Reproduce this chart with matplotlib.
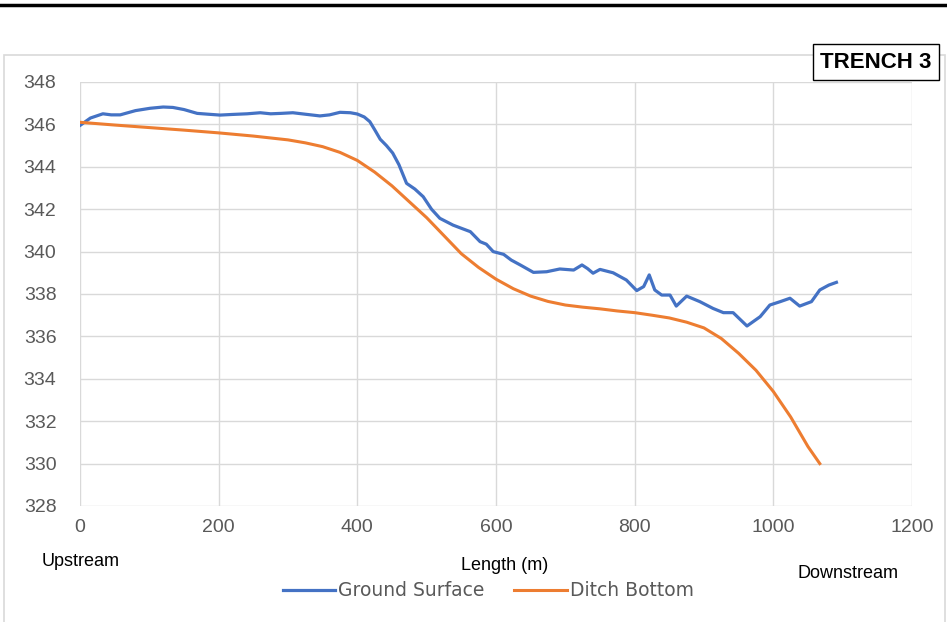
import matplotlib
matplotlib.use("Agg")
import matplotlib.pyplot as plt
from matplotlib.lines import Line2D
from matplotlib.patches import Rectangle

# Ground surface profile (length in m, elevation)
ground_x = [0, 15, 33, 45, 58, 80, 101, 120, 134, 150, 169, 185, 202, 220, 241,
            260, 275, 290, 307, 325, 346, 360, 375, 390, 400, 410, 418, 425, 433,
            442, 451, 460, 471, 483, 495, 507, 519, 538, 550, 563, 577, 586, 596,
            611, 622, 635, 654, 673, 692, 712, 724, 732, 740, 750, 769, 788, 803,
            813, 821, 829, 839, 851, 860, 875, 894, 913, 928, 942, 962, 981, 995,
            1010, 1024, 1038, 1055, 1067, 1080, 1091]
ground_y = [345.95, 346.3, 346.5, 346.45, 346.45, 346.65, 346.76, 346.82, 346.8,
            346.7, 346.52, 346.48, 346.44, 346.47, 346.5, 346.55, 346.5, 346.52,
            346.55, 346.48, 346.4, 346.45, 346.57, 346.55, 346.49, 346.35, 346.13,
            345.75, 345.3, 345.0, 344.65, 344.1, 343.22, 342.95, 342.59, 342.0,
            341.57, 341.25, 341.1, 340.94, 340.47, 340.35, 340.0, 339.87, 339.6,
            339.37, 339.02, 339.05, 339.18, 339.13, 339.37, 339.2, 338.98, 339.16,
            339.0, 338.66, 338.16, 338.35, 338.9, 338.19, 337.95, 337.95, 337.43,
            337.9, 337.64, 337.32, 337.12, 337.12, 336.49, 336.93, 337.48, 337.64,
            337.8, 337.43, 337.64, 338.19, 338.42, 338.55]

# Ditch bottom profile
ditch_x = [0, 50, 100, 150, 200, 250, 300, 325, 350, 375, 400, 425, 450, 475,
           500, 525, 550, 575, 600, 625, 650, 675, 700, 725, 750, 775, 800, 825,
           850, 875, 900, 925, 950, 975, 1000, 1025, 1050, 1067]
ditch_y = [346.1, 345.97, 345.85, 345.73, 345.6, 345.45, 345.27, 345.13, 344.95,
           344.68, 344.3, 343.75, 343.1, 342.35, 341.6, 340.75, 339.9, 339.25,
           338.7, 338.25, 337.9, 337.65, 337.48, 337.38, 337.3, 337.2, 337.12,
           337.0, 336.87, 336.67, 336.4, 335.9, 335.2, 334.4, 333.4, 332.2,
           330.8, 330.0]

x_ticks = [0, 200, 400, 600, 800, 1000, 1200]
y_ticks = [328, 330, 332, 334, 336, 338, 340, 342, 344, 346, 348]

blue = "#4472C4"
orange = "#ED7D31"
grid_c = "#d9d9d9"
label_c = "#595959"

W, H = 947, 622
fig = plt.figure(figsize=(W / 100, H / 100), dpi=100)

# chart border and top rule
fig.patches.append(Rectangle((4 / W, -0.05), 941 / W, 1.05 - 55 / H,
                             transform=fig.transFigure, fill=False,
                             edgecolor=grid_c, linewidth=1.2))
fig.add_artist(Line2D([0, 1], [1 - 5 / H, 1 - 5 / H], transform=fig.transFigure,
                      color="black", linewidth=2.5))

ax = fig.add_axes([80 / W, 1 - 506 / H, 832 / W, 424 / H])
ax.plot(ground_x, ground_y, color=blue, linewidth=2.3, label="Ground Surface",
        solid_joinstyle="round")
ax.plot(ditch_x, ditch_y, color=orange, linewidth=2.2, label="Ditch Bottom",
        solid_joinstyle="round")

ax.set_xlim(0, 1200)
ax.set_ylim(328, 348)
ax.set_xticks(x_ticks)
ax.set_yticks(y_ticks)
ax.grid(True, color=grid_c, linewidth=1.0)
ax.set_axisbelow(True)
for s in ax.spines.values():
    s.set_visible(False)
ax.tick_params(length=0, labelsize=14, labelcolor=label_c)
ax.tick_params(axis="y", pad=17)
ax.tick_params(axis="x", pad=9)
for lab in ax.get_xticklabels() + ax.get_yticklabels():
    lab.set_fontfamily(["Liberation Sans", "DejaVu Sans"])

fig.text(81 / W, 1 - 562 / H, "Upstream", ha="center", va="center",
         fontsize=13, family="Liberation Sans")
fig.text(505 / W, 1 - 566 / H, "Length (m)", ha="center", va="center",
         fontsize=13, family="Liberation Sans")
fig.text(848 / W, 1 - 574 / H, "Downstream", ha="center", va="center",
         fontsize=13, family="Liberation Sans")

fig.text(876 / W, 1 - 62 / H, "TRENCH 3", ha="center", va="center",
         fontsize=16, fontweight="bold", family="Liberation Sans",
         bbox=dict(boxstyle="square,pad=0.35", facecolor="white",
                   edgecolor="black", linewidth=1.0))

leg = fig.legend(loc="center", bbox_to_anchor=(488 / W, 1 - 591 / H), ncol=2,
                 frameon=False, handlelength=2.8, handletextpad=0.15,
                 columnspacing=1.6, prop={"family": "DejaVu Sans", "size": 13.5})
for t in leg.get_texts():
    t.set_color(label_c)

fig.savefig("out.png", dpi=100)
